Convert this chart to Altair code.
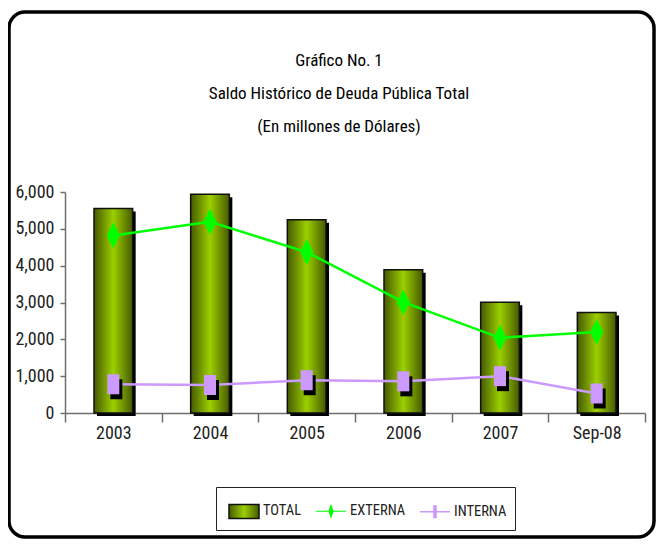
import altair as alt
import pandas as pd

years = ["2003", "2004", "2005", "2006", "2007", "Sep-08"]
total = [5550, 5940, 5250, 3890, 3010, 2730]
externa = [4820, 5190, 4370, 3010, 2040, 2200]
interna = [780, 760, 890, 860, 1000, 530]
series = ["TOTAL", "EXTERNA", "INTERNA"]
y_ticks = [0, 1000, 2000, 3000, 4000, 5000, 6000]
title_lines = ["Gráfico No. 1", "Saldo Histórico de Deuda Pública Total", "(En millones de Dólares)"]

FONT = "Liberation Sans Narrow, Arial Narrow, Roboto Condensed, Noto Sans, sans-serif"

long = pd.DataFrame({
    "year": years * 3,
    "series": [s for s in series for _ in years],
    "value": total + externa + interna,
})

base = alt.Chart(long)

x_enc = alt.X(
    "year:N", sort=years,
    scale=alt.Scale(paddingInner=0, paddingOuter=0),
    axis=alt.Axis(title=None, labelAngle=0, tickBand="extent", tickSize=9, labelPadding=2,
                  labelFontSize=18, labelFont=FONT, labelColor="#222",
                  domainColor="#6e6e6e", tickColor="#6e6e6e", domainWidth=1.5, tickWidth=1.5),
)
y_enc = alt.Y(
    "value:Q",
    scale=alt.Scale(domain=[0, 6000], nice=False),
    axis=alt.Axis(title=None, values=y_ticks, format=",.0f", tickSize=5, labelPadding=6,
                  labelFontSize=18, labelFont=FONT, labelColor="#222", grid=False,
                  domainColor="#6e6e6e", tickColor="#6e6e6e", domainWidth=1.5, tickWidth=1.5),
)

bar_grad = alt.LinearGradient(
    gradient="linear", x1=0, x2=1, y1=0, y2=0,
    stops=[alt.GradientStop(offset=0, color="#465a00"),
           alt.GradientStop(offset=0.5, color="#9ccf00"),
           alt.GradientStop(offset=1, color="#465a00")],
)

frame = alt.Chart(alt.Data(values=[{"k": 1}])).mark_rect(
    fillOpacity=0, fill="white", stroke="black", strokeWidth=3.5, cornerRadius=16
).encode(x=alt.value(-56), x2=alt.value(589), y=alt.value(-180), y2=alt.value(345))

tot = base.transform_filter(alt.datum.series == "TOTAL")
ext = base.transform_filter(alt.datum.series == "EXTERNA")
inte = base.transform_filter(alt.datum.series == "INTERNA")

bar_shadow = tot.mark_bar(color="black", width=alt.RelativeBandSize(0.4), xOffset=3, yOffset=3).encode(x=x_enc, y=y_enc)
bars = tot.mark_bar(fill=bar_grad, stroke="#111", strokeWidth=1.5, width=alt.RelativeBandSize(0.4)).encode(x=x_enc, y=y_enc)

ext_line = ext.mark_line(color="#00ff00", strokeWidth=2.5).encode(x=x_enc, y=y_enc)
int_line = inte.mark_line(color="#cc99ff", strokeWidth=2.5).encode(x=x_enc, y=y_enc)

sq_path = "M-0.6,-1H0.6V1H-0.6Z"
dia_path = "M0,-1L0.5,0L0,1L-0.5,0Z"

sq_shadow = inte.mark_point(shape=sq_path, size=400, filled=True, color="black", opacity=1, xOffset=3, yOffset=5).encode(x=x_enc, y=y_enc)
sq = inte.mark_point(shape=sq_path, size=400, filled=True, color="#cc99ff", opacity=1).encode(x=x_enc, y=y_enc)
dia = ext.mark_point(shape=dia_path, size=676, filled=True, color="#00ff00", opacity=1).encode(x=x_enc, y=y_enc)

grad_expr = ("{gradient: 'linear', x1: 0, y1: 0, x2: 1, y2: 0, stops: ["
             "{offset: 0, color: '#465a00'}, {offset: 0.5, color: '#9ccf00'}, {offset: 1, color: '#465a00'}]}")
legend_shapes = [
    "M-1,-0.47H1V0.47H-1Z",
    "M-1,-0.04H-0.16L0,-0.5L0.16,-0.04H1V0.04H0.16L0,0.5L-0.16,0.04H-1Z",
    "M-1,-0.045H-0.12V-0.43H0.12V-0.045H1V0.045H0.12V0.43H-0.12V0.045H-1Z",
]

leg = alt.Legend(
    title=None, orient="none", legendX=151, legendY=295, direction="horizontal",
    padding=8, strokeColor="#222", fillColor="white",
    symbolSize=900, symbolOpacity=1, symbolStrokeWidth=1.5, symbolOffset=4,
    labelFont=FONT, labelFontSize=14.5, labelColor="#222", labelOffset=3,
    columnPadding=9,
)

legend_layer = base.mark_point(filled=True, opacity=0).encode(
    x=x_enc, y=y_enc,
    color=alt.Color("series:N", scale=alt.Scale(domain=series, range=[alt.ExprRef(expr=grad_expr), "#00ff00", "#cc99ff"]), legend=leg),
    shape=alt.Shape("series:N", scale=alt.Scale(domain=series, range=legend_shapes), legend=leg),
    stroke=alt.Stroke("series:N", scale=alt.Scale(domain=series, range=["#111", "transparent", "transparent"]), legend=leg),
)

chart = alt.layer(
    frame, bar_shadow, bars, ext_line, int_line, sq_shadow, sq, dia, legend_layer
).properties(
    width=580, height=221,
    autosize=alt.AutoSizeParams(type="none"),
    padding={"left": 57, "top": 184, "right": 11, "bottom": 126},
    background="white",
    title=alt.Title(text=title_lines, fontSize=17, font=FONT, fontWeight="normal",
                    lineHeight=33, offset=-126, dx=-16, anchor="middle", color="black"),
).configure_view(stroke=None)

chart.save("out.html", embed_options={"renderer": "svg", "actions": False})
